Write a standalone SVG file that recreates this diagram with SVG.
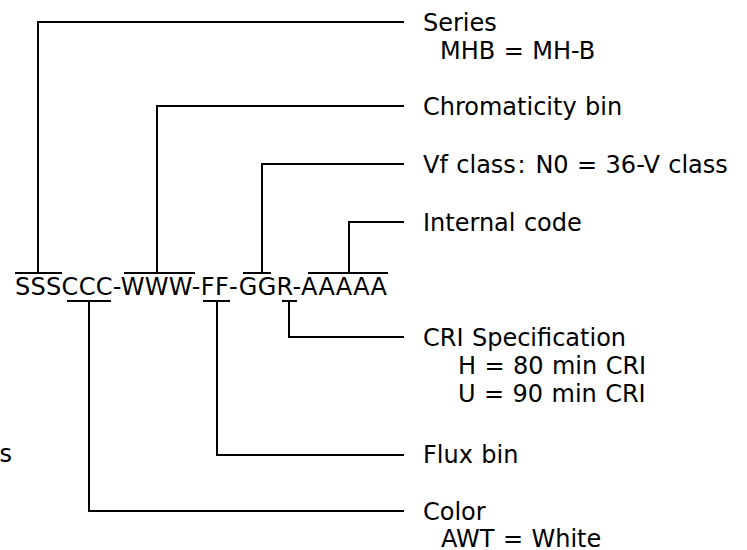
<svg xmlns="http://www.w3.org/2000/svg" width="747" height="550" viewBox="0 0 747 550">
<style>
text{font-family:"DejaVu Sans","Verdana",sans-serif;font-size:24px;fill:#000;word-spacing:0.8px}
.ln{fill:none;stroke:#000;stroke-width:2}
</style>
<rect width="747" height="550" fill="#fff"/>
<g id="code">
<text x="15" y="295" textLength="372" lengthAdjust="spacing">SSSCCC-WWW-FF-GGR-AAAAA</text>
</g>
<g id="connectors" class="ln">
<path d="M15 273H62M38 273V22H404"/>
<path d="M124 273H195M157 273V106H404"/>
<path d="M243 273H271M262 273V164H404"/>
<path d="M308 273H388M349 273V222H404"/>
<path d="M67 301H111M89 301V511H404"/>
<path d="M203 301H230M217 301V455H404"/>
<path d="M282 301H297M289 301V337H404"/>
</g>
<g id="series"><text x="423" y="31">Series</text><text x="440" y="59">MHB = MH-B</text></g>
<g id="chromaticity"><text x="423" y="115">Chromaticity bin</text></g>
<g id="vf"><text x="423" y="173">Vf class<tspan dx="1.5">:</tspan><tspan dx="1.5"> N0 = 36-V class</tspan></text></g>
<g id="internal"><text x="423" y="231">Internal code</text></g>
<g id="cri"><text x="423" y="346">CRI Specification</text><text x="458" y="374">H = 80 min CRI</text><text x="458" y="402">U = 90 min CRI</text></g>
<g id="flux"><text x="423" y="463">Flux bin</text></g>
<g id="color"><text x="423" y="520">Color</text><text x="441" y="547">AWT = White</text></g>
<g id="stray"><text x="-0.5" y="462">s</text></g>
</svg>
